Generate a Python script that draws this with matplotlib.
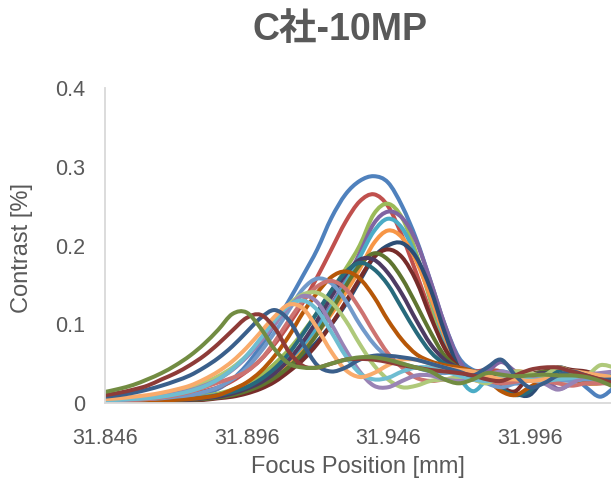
import numpy as np
import matplotlib
matplotlib.use("Agg")
import matplotlib.pyplot as plt
from matplotlib.path import Path
from matplotlib.patches import PathPatch

plt.rcParams['font.family'] = ['Liberation Sans', 'Noto Sans CJK JP', 'DejaVu Sans']

title = "C社-10MP"
x_label = "Focus Position [mm]"
y_label = "Contrast [%]"
x_ticks = [31.846, 31.896, 31.946, 31.996]
y_ticks = [0, 0.1, 0.2, 0.3, 0.4]

# Focus positions (mm), step 0.005
focus = [31.846 + 0.005 * i for i in range(37)]

colors = ["#4F81BD", "#C0504D", "#9BBB59", "#8064A2", "#4BACC6", "#F79646",
          "#2C4D75", "#772C2A", "#5F7530", "#4D3B62", "#276A7C", "#B65708",
          "#729ACA", "#CD7371", "#AFC97A", "#9983B5", "#6FBDD1", "#F9AB6B",
          "#3A5F8B", "#8E3B38", "#728C42"]

s1 = [0.004,0.004,0.005,0.005,0.006,0.007,0.009,0.012,0.018,0.03,0.048,0.072,0.1,0.13,0.162,0.195,0.235,0.265,0.282,0.288,0.28,0.25,0.208,0.155,0.1,0.058,0.042,0.04,0.035,0.025,0.03,0.038,0.03,0.035,0.02,0.008,0.02]
s2 = [0.003,0.003,0.004,0.005,0.006,0.008,0.011,0.015,0.02,0.028,0.04,0.055,0.075,0.1,0.128,0.16,0.195,0.23,0.256,0.265,0.25,0.212,0.165,0.115,0.07,0.045,0.04,0.042,0.04,0.032,0.028,0.035,0.04,0.038,0.03,0.032,0.035]
s3 = [0.003,0.003,0.003,0.004,0.004,0.005,0.007,0.009,0.012,0.017,0.025,0.035,0.05,0.068,0.09,0.115,0.142,0.17,0.2,0.24,0.253,0.235,0.19,0.13,0.075,0.045,0.04,0.038,0.035,0.03,0.033,0.038,0.035,0.03,0.028,0.03,0.032]
s4 = [0.002,0.002,0.003,0.003,0.004,0.005,0.006,0.008,0.01,0.014,0.02,0.028,0.04,0.055,0.075,0.098,0.125,0.155,0.19,0.228,0.243,0.235,0.205,0.155,0.1,0.055,0.035,0.04,0.052,0.04,0.03,0.032,0.018,0.025,0.035,0.03,0.028]
s5 = [0.002,0.002,0.003,0.003,0.004,0.005,0.006,0.008,0.01,0.013,0.018,0.026,0.037,0.052,0.072,0.095,0.122,0.152,0.185,0.218,0.234,0.222,0.185,0.135,0.08,0.035,0.015,0.03,0.04,0.035,0.03,0.035,0.04,0.035,0.03,0.033,0.035]
s6 = [0.002,0.002,0.002,0.003,0.003,0.004,0.005,0.007,0.009,0.012,0.017,0.024,0.034,0.048,0.066,0.088,0.113,0.14,0.17,0.203,0.219,0.21,0.18,0.135,0.085,0.045,0.03,0.028,0.035,0.04,0.038,0.03,0.028,0.03,0.035,0.03,0.03]
s7 = [0.001,0.001,0.001,0.002,0.002,0.003,0.004,0.005,0.007,0.01,0.015,0.022,0.032,0.045,0.06,0.078,0.1,0.125,0.155,0.185,0.2,0.203,0.185,0.145,0.09,0.045,0.03,0.035,0.02,0.012,0.01,0.03,0.045,0.04,0.035,0.03,0.035]
s8 = [0.001,0.001,0.001,0.002,0.002,0.002,0.003,0.004,0.006,0.008,0.012,0.018,0.027,0.04,0.055,0.075,0.1,0.128,0.158,0.185,0.195,0.185,0.155,0.11,0.07,0.045,0.035,0.03,0.02,0.015,0.035,0.04,0.045,0.042,0.04,0.035,0.03]
s9 = [0.001,0.001,0.002,0.002,0.002,0.003,0.004,0.005,0.007,0.01,0.015,0.022,0.032,0.046,0.064,0.088,0.117,0.148,0.175,0.19,0.182,0.158,0.125,0.09,0.06,0.045,0.04,0.035,0.03,0.03,0.035,0.04,0.038,0.035,0.03,0.03,0.028]
s10 = [0.001,0.001,0.002,0.002,0.003,0.003,0.004,0.006,0.008,0.012,0.018,0.026,0.038,0.055,0.078,0.105,0.135,0.163,0.182,0.182,0.165,0.138,0.105,0.075,0.055,0.045,0.04,0.035,0.032,0.03,0.035,0.038,0.035,0.03,0.03,0.032,0.03]
s11 = [0.002,0.002,0.002,0.003,0.003,0.004,0.005,0.007,0.01,0.014,0.02,0.03,0.044,0.063,0.088,0.115,0.143,0.166,0.178,0.17,0.15,0.12,0.09,0.065,0.05,0.045,0.04,0.03,0.018,0.01,0.015,0.035,0.04,0.035,0.03,0.032,0.03]
s12 = [0.002,0.002,0.002,0.003,0.003,0.004,0.005,0.007,0.01,0.017,0.026,0.04,0.06,0.085,0.115,0.14,0.16,0.167,0.158,0.135,0.105,0.08,0.062,0.053,0.048,0.045,0.04,0.03,0.015,0.01,0.02,0.03,0.035,0.03,0.025,0.025,0.028]
s13 = [0.003,0.003,0.004,0.005,0.006,0.008,0.01,0.014,0.02,0.03,0.044,0.065,0.09,0.118,0.145,0.158,0.152,0.13,0.1,0.075,0.058,0.05,0.045,0.04,0.038,0.04,0.035,0.025,0.02,0.025,0.03,0.035,0.03,0.028,0.03,0.028,0.025]
s14 = [0.003,0.003,0.004,0.005,0.007,0.01,0.014,0.02,0.026,0.032,0.04,0.055,0.078,0.105,0.13,0.148,0.155,0.145,0.12,0.09,0.063,0.045,0.032,0.028,0.03,0.032,0.03,0.028,0.025,0.027,0.03,0.028,0.025,0.022,0.025,0.025,0.025]
s15 = [0.004,0.005,0.006,0.008,0.011,0.015,0.02,0.026,0.034,0.045,0.06,0.08,0.102,0.125,0.138,0.14,0.128,0.105,0.075,0.048,0.03,0.02,0.022,0.028,0.03,0.032,0.03,0.025,0.035,0.04,0.038,0.035,0.045,0.04,0.035,0.048,0.045]
s16 = [0.003,0.004,0.005,0.007,0.009,0.012,0.016,0.022,0.03,0.042,0.058,0.078,0.1,0.122,0.136,0.128,0.1,0.068,0.04,0.022,0.02,0.028,0.035,0.035,0.03,0.028,0.03,0.035,0.04,0.035,0.03,0.025,0.017,0.025,0.035,0.038,0.04]
s17 = [0.003,0.004,0.005,0.006,0.008,0.011,0.015,0.021,0.03,0.043,0.06,0.082,0.105,0.124,0.13,0.118,0.09,0.06,0.038,0.03,0.032,0.04,0.045,0.045,0.04,0.035,0.03,0.028,0.032,0.035,0.03,0.028,0.03,0.032,0.035,0.03,0.03]
s18 = [0.005,0.006,0.008,0.01,0.013,0.017,0.022,0.03,0.04,0.053,0.07,0.09,0.11,0.125,0.12,0.095,0.065,0.042,0.033,0.038,0.048,0.055,0.055,0.05,0.045,0.042,0.04,0.035,0.03,0.03,0.028,0.03,0.035,0.04,0.038,0.035,0.033]
s19 = [0.008,0.01,0.013,0.017,0.022,0.028,0.035,0.045,0.057,0.072,0.09,0.108,0.118,0.105,0.075,0.048,0.04,0.045,0.055,0.06,0.06,0.058,0.055,0.05,0.045,0.04,0.035,0.045,0.055,0.035,0.02,0.025,0.035,0.04,0.035,0.03,0.03]
s20 = [0.01,0.013,0.017,0.022,0.03,0.038,0.048,0.06,0.075,0.092,0.108,0.112,0.095,0.065,0.047,0.045,0.05,0.055,0.056,0.055,0.052,0.048,0.045,0.042,0.04,0.038,0.035,0.03,0.028,0.035,0.042,0.045,0.045,0.04,0.035,0.03,0.025]
s21 = [0.014,0.018,0.023,0.03,0.038,0.048,0.06,0.075,0.093,0.113,0.115,0.095,0.068,0.05,0.045,0.045,0.05,0.055,0.058,0.058,0.055,0.05,0.045,0.04,0.03,0.025,0.03,0.038,0.036,0.034,0.035,0.036,0.035,0.035,0.033,0.028,0.02]

series = [s1, s2, s3, s4, s5, s6, s7, s8, s9, s10, s11, s12, s13, s14, s15, s16, s17, s18, s19, s20, s21]


def smooth_path(xs, ys):
    """Excel-style smoothed line: Bezier segments through the data points."""
    P = np.column_stack([xs, ys])
    n = len(P)
    verts = [P[0]]
    codes = [Path.MOVETO]
    for i in range(n - 1):
        p0 = P[i - 1] if i > 0 else P[i]
        p1 = P[i]
        p2 = P[i + 1]
        p3 = P[i + 2] if i + 2 < n else P[i + 1]
        c1 = p1 + (p2 - p0) / 6.0
        c2 = p2 - (p3 - p1) / 6.0
        verts += [c1, c2, p2]
        codes += [Path.CURVE4] * 3
    return Path(verts, codes)


W, H = 611, 482
fig = plt.figure(figsize=(W / 100, H / 100), dpi=100)
ax = fig.add_axes([105 / W, 1 - 403 / H, (611 - 105) / W, (403 - 88) / H])

for k, (vals, c) in enumerate(zip(series, colors)):
    patch = PathPatch(smooth_path(focus, vals), facecolor='none', edgecolor=c,
                      lw=2.9, joinstyle='round', capstyle='round', zorder=2 + k * 0.01)
    ax.add_patch(patch)

ax.set_xlim(31.846, 32.0248)
ax.set_ylim(0, 0.4)
ax.set_xticks(x_ticks)
ax.set_xticklabels([f"{v:.3f}" for v in x_ticks])
ax.set_yticks(y_ticks)
ax.set_yticklabels(["0", "0.1", "0.2", "0.3", "0.4"])

text_color = "#595959"
ax.tick_params(axis='both', length=0, labelsize=15.5, colors=text_color)
ax.tick_params(axis='x', pad=18)
ax.tick_params(axis='y', pad=14)
for side in ['top', 'right']:
    ax.spines[side].set_visible(False)
for side in ['left', 'bottom']:
    ax.spines[side].set_color('#D9D9D9')
    ax.spines[side].set_linewidth(1.3)

fig.text(340 / W, 1 - 30 / H, title, ha='center', va='center', fontsize=27,
         fontweight='bold', color=text_color)
fig.text(358 / W, 1 - 467 / H, x_label, ha='center', va='center', fontsize=17, color=text_color)
fig.text(22 / W, 1 - 248 / H, y_label, ha='center', va='center', rotation=90, fontsize=17, color=text_color)

fig.savefig("out.png", dpi=100)
